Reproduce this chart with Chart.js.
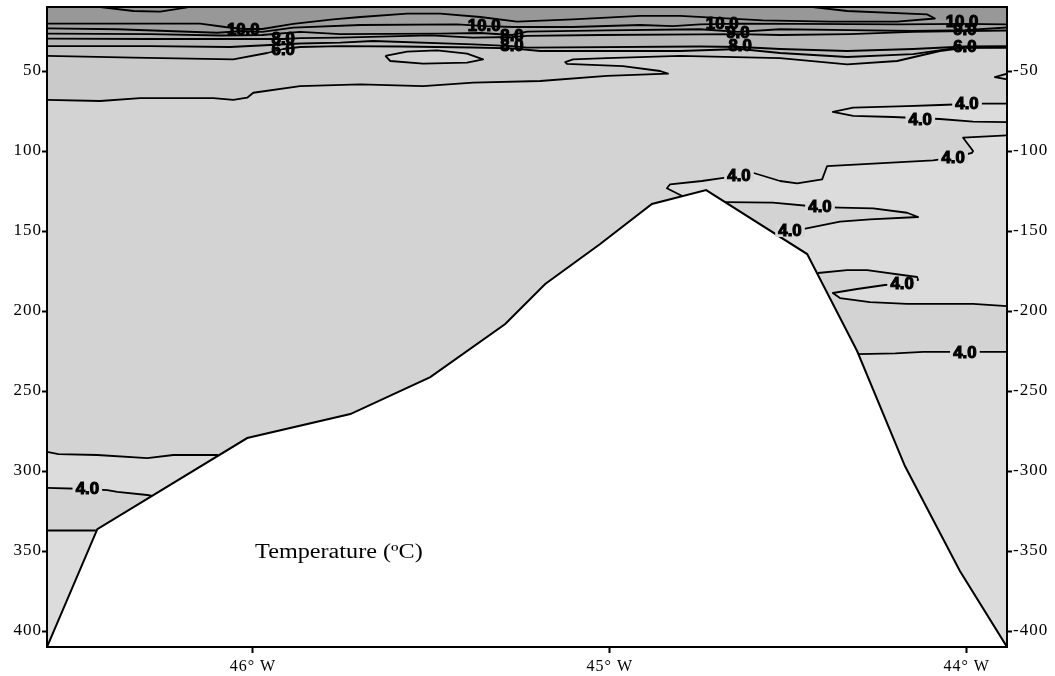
<!DOCTYPE html>
<html><head><meta charset="utf-8">
<script src="https://cdn.jsdelivr.net/npm/chart.js@4.4.1/dist/chart.umd.min.js"></script>
<style>html,body{margin:0;padding:0;background:#fff}canvas{display:block}</style>
</head><body>
<canvas id="c" width="1055" height="676"></canvas>
<script>
// ---------- axes ----------
const lonMin = -46.577, lonMax = -43.887;
const depthMin = 10, depthMax = 410;
const xTicks = [-46, -45, -44];
const xTickLabels = ['46° W', '45° W', '44° W'];
const yTicks = [50, 100, 150, 200, 250, 300, 350, 400];
const yLeftLabels = ['50', '100', '150', '200', '250', '300', '350', '400'];
const yRightLabels = ['-50', '-100', '-150', '-200', '-250', '-300', '-350', '-400'];

// ---------- seabed (lon, depth m) ----------
const bathymetry = [[-46.577,410],[-46.436,336.3],[-46.016,279.4],[-45.727,264.4],[-45.503,241.3],[-45.293,208.1],[-45.181,183.1],[-45.027,158.1],[-44.882,133.1],[-44.730,124.4],[-44.447,164.4],[-44.307,225],[-44.173,296.9],[-44.019,362.5],[-43.887,410]];

// ---------- isotherms (lon, depth m) ----------
const iso1 = [[-46.577,20.4],[-46.148,20.4],[-46.078,22.5],[-46.027,23.75],[-45.974,23.75],[-45.887,20.6],[-45.775,17.7],[-45.699,16.25],[-45.568,14.2],[-45.475,14.2],[-45.363,16.25],[-45.260,19.2],[-45.103,17.7],[-44.915,15.6],[-44.803,15.6],[-44.571,18.4],[-44.383,19.2],[-44.195,19.2],[-44.089,17.2],[-44.111,14.6],[-44.335,12.5],[-44.431,10]];
const iso2 = [[-46.577,23.3],[-46.380,23.9],[-46.100,26.1],[-46.027,25.0],[-45.974,25.6],[-45.887,22.9],[-45.699,21.25],[-45.428,20.8],[-45.349,21.9],[-45.271,22.5],[-45.103,22.5],[-44.915,21.25],[-44.823,21.9],[-44.747,20.9],[-44.635,20.4],[-44.467,20.6],[-44.187,20.9],[-44.013,20.6],[-43.887,20.8]];
const iso3 = [[-46.577,26.7],[-46.288,26.9],[-46.092,27.8],[-45.974,27.5],[-45.868,25.6],[-45.755,26.9],[-45.475,26.7],[-45.363,26.25],[-45.274,27.5],[-45.232,25.4],[-45.008,24.6],[-44.747,23.9],[-44.641,25.6],[-44.523,23.9],[-44.327,24.4],[-44.150,25.0],[-44.005,24.4],[-43.887,22.8]];
const iso4 = [[-46.577,29.8],[-46.288,30.0],[-46.008,30.0],[-45.915,30.0],[-45.868,29.4],[-45.755,29.2],[-45.503,27.7],[-45.383,29.2],[-45.274,28.75],[-45.232,28.1],[-45.027,27.5],[-44.747,27.1],[-44.641,26.9],[-44.523,27.5],[-44.327,26.9],[-44.150,25.6],[-44.005,25.0],[-43.887,24.7]];
const iso5 = [[-46.577,34.4],[-46.288,34.4],[-46.064,35.0],[-45.952,33.75],[-45.868,32.8],[-45.755,32.3],[-45.663,31.25],[-45.383,33.3],[-45.274,34.4],[-45.232,35.4],[-44.747,34.7],[-44.635,35.0],[-44.523,36.25],[-44.335,37.5],[-44.150,36.25],[-44.005,34.7],[-43.887,34.4]];
const iso6 = [[-46.577,40.6],[-46.335,41.7],[-46.055,42.7],[-45.960,38.75],[-45.915,36.25],[-45.868,35.0],[-45.755,34.4],[-45.587,34.7],[-45.383,35.3],[-45.274,35.9],[-45.195,37.5],[-45.027,37.5],[-44.803,37.5],[-44.635,36.25],[-44.523,38.75],[-44.335,41.25],[-44.150,39.4],[-44.019,35.3],[-43.887,35.0]];
const iso7 = [[-46.577,68.1],[-46.428,68.75],[-46.316,66.9],[-46.111,66.9],[-46.055,68.1],[-46.016,66.7],[-45.999,63.6],[-45.868,59.4],[-45.699,58.3],[-45.523,59.4],[-45.383,57.3],[-45.195,56.25],[-45.008,53.1],[-44.837,51.7],[-44.859,50.0],[-44.963,46.9],[-45.120,45.6],[-45.125,44.4],[-45.103,42.7],[-45.008,41.9],[-44.803,40.6],[-44.523,41.9],[-44.335,45.8],[-44.195,43.75],[-44.075,37.5],[-44.005,35.6],[-43.887,35.6]];
const isoLoop = [[-45.629,40.6],[-45.568,37.9],[-45.484,37.1],[-45.400,39.2],[-45.355,42.7],[-45.400,44.8],[-45.523,45.4],[-45.615,43.75],[-45.629,40.6]];
const isoTopSag = [[-46.428,10],[-46.335,12.5],[-46.260,12.9],[-46.184,10.3]];
const isoEdgeWedge = [[-43.887,51.7],[-43.921,53.75],[-43.887,55.2]];
const iso4TongueTop = [[-43.887,70.4],[-43.971,70.4],[-44.075,71.25],[-44.167,71.9],[-44.318,72.9],[-44.375,75.6],[-44.318,78.1],[-44.206,78.75],[-44.075,80.0],[-43.982,81.7],[-43.887,81.9]];
const iso4Peak = [[-43.887,90.2],[-44.010,91.7],[-43.982,100],[-43.985,101.1],[-44.038,104.2],[-44.094,105.8],[-44.391,109.4],[-44.405,117.7],[-44.475,120.2],[-44.523,118.75],[-44.599,113.6],[-44.638,115.6],[-44.691,117.1],[-44.742,118.75],[-44.831,120.8],[-44.840,123.3],[-44.797,128.1]];
const iso4Slope = [[-44.677,131.9],[-44.543,132.3],[-44.411,135],[-44.355,135.4],[-44.262,135.8],[-44.167,138.6],[-44.136,141.25],[-44.271,142.7],[-44.355,144.2],[-44.459,148.9],[-44.495,150],[-44.531,152.5]];
const iso4Fold = [[-44.417,176.25],[-44.335,174.4],[-44.279,174.4],[-44.139,178.75],[-44.136,180.6],[-44.181,183.1],[-44.229,183.75],[-44.307,186.25],[-44.375,188.75],[-44.355,191.9],[-44.271,194.4],[-44.167,195.6],[-43.982,195.6],[-43.887,196.9]];
const iso4Deep = [[-44.305,226.9],[-44.20,226.5],[-44.122,225.6],[-43.887,225.6]];
const isoWest1 = [[-46.577,288.1],[-46.545,289.4],[-46.436,290],[-46.296,291.9],[-46.223,290],[-46.097,290]];
const isoWest2 = [[-46.577,310.6],[-46.464,311.25],[-46.408,311.9],[-46.380,313.1],[-46.296,315],[-46.282,315.6]];
const isoWest3 = [[-46.577,337.2],[-46.44,337.2]];

// warm surface patch in the north-east corner (above iso2)
const warmCornerEast = [[-44.803,10],[-44.803,15.6],[-44.571,18.4],[-44.383,19.2],[-44.195,19.2],[-44.089,17.2],[-44.013,20.6],[-43.887,20.8],[-43.887,10]];

// points lying under the seabed, used only to close shaded areas
const underSeabedEast = [[-44.75,135],[-44.40,200],[-44.10,370],[-43.887,410]];
const underSeabedFold = [[-43.887,410],[-44.25,410],[-44.45,180]];
const underSeabedDeep = [[-43.887,410],[-44.25,410],[-44.35,240]];
const underSeabedWest1 = [[-46.0,290],[-46.0,318]];
const underSeabedWest3 = [[-46.40,410],[-46.577,410]];

// contour labels (text, lon, depth)
const contourLabels = [
  ['10.0',-46.027,24.4],['8.0',-45.915,29.7],['6.0',-45.915,36.6],
  ['10.0',-45.352,21.9],['8.0',-45.274,28.1],['8.0',-45.274,34.4],
  ['10.0',-44.685,20.6],['9.0',-44.641,26.25],['8.0',-44.635,34.4],
  ['10.0',-44.013,19.4],['9.0',-44.005,24.4],['6.0',-44.005,35.0],
  ['4.0',-43.999,70.6],['4.0',-44.130,80.6],['4.0',-44.038,104.4],
  ['4.0',-44.638,115.6],['4.0',-44.411,135],['4.0',-44.495,150],
  ['4.0',-44.181,183.1],['4.0',-44.005,226.25],['4.0',-46.464,311.25]
];
const titleText = 'Temperature (ºC)';
const titlePos = [-45.994, 351.25];

// ---------- styles ----------
const shade = {t1:'#989898', t2:'#a0a0a0', t3:'#a8a8a8', t4:'#b0b0b0', t5:'#b8b8b8', t6:'#c0c0c0', t7:'#cacaca', mid:'#d3d3d3', cold:'#dcdcdc'};
const serif = '"Liberation Serif", "Times New Roman", serif';

const pts = a => a.map(p => ({x: p[0], y: p[1]}));
const above = a => [...a, [lonMax, depthMin], [lonMin, depthMin]];
const layers = [];
function area(a, color) {
  layers.push({data: pts(a), fill: 'shape', backgroundColor: color, borderWidth: 0, pointRadius: 0, tension: 0});
}
function iso(a, w) {
  layers.push({data: pts(a), fill: false, borderColor: '#000', borderWidth: w || 1.8, pointRadius: 0, tension: 0, borderJoinStyle: 'round'});
}

area([[lonMin,depthMin],[lonMax,depthMin],[lonMax,depthMax],[lonMin,depthMax]], shade.mid);
area(above(iso7), shade.t7);
area(above(iso6), shade.t6);
area(above(iso5), shade.t5);
area(above(iso4), shade.t4);
area(above(iso3), shade.t3);
area(above(iso2), shade.t2);
area(above(iso1), shade.t1);
area(warmCornerEast, shade.t1);
area(isoLoop, shade.mid);
area([...iso4Peak, ...underSeabedEast], shade.cold);
area(iso4TongueTop, shade.cold);
area(iso4Slope, shade.mid);
area([...iso4Fold, ...underSeabedFold], shade.mid);
area([...iso4Deep, ...underSeabedDeep], shade.cold);
area([...isoWest1, ...underSeabedWest1, ...isoWest2.slice().reverse()], shade.cold);
area([...isoWest3, ...underSeabedWest3], shade.cold);

[iso1, iso2, iso3, iso4, iso5, iso6, iso7, isoLoop, isoTopSag, isoEdgeWedge, iso4TongueTop, iso4Peak, iso4Slope, iso4Fold, iso4Deep, isoWest1, isoWest2, isoWest3].forEach(a => iso(a));

layers.push({data: pts(bathymetry), fill: 'shape', backgroundColor: '#ffffff', borderColor: '#000', borderWidth: 2, pointRadius: 0, tension: 0});

layers.forEach((d, i) => { d.order = layers.length - i; });

const spacingPlugin = {
  id: 'tickSpacing',
  beforeDraw(chart) { chart.ctx.letterSpacing = '1px'; },
  afterDraw(chart) { chart.ctx.letterSpacing = '0px'; }
};

const labelPlugin = {
  id: 'contourLabels',
  afterDatasetsDraw(chart) {
    const {ctx, scales: {x, y}} = chart;
    ctx.save();
    ctx.letterSpacing = '0px';
    ctx.beginPath();
    ctx.rect(chart.chartArea.left, chart.chartArea.top, chart.chartArea.width, chart.chartArea.height);
    ctx.clip();
    ctx.font = 'bold 16px "Liberation Sans", Arial, sans-serif';
    ctx.textAlign = 'center';
    ctx.textBaseline = 'middle';
    contourLabels.forEach(([t, lon, d]) => {
      const px = x.getPixelForValue(lon), py = y.getPixelForValue(d);
      ctx.save();
      ctx.translate(px, py);
      ctx.scale(1.05, 1);
      const w = ctx.measureText(t).width;
      if (t === '4.0') {
        ctx.fillStyle = '#d7d7d7';
        ctx.fillRect(-w / 2 - 3, -6, w + 6, 12);
      }
      ctx.fillStyle = '#000';
      ctx.strokeStyle = '#000';
      ctx.lineWidth = 1.1;
      ctx.fillText(t, 0, 1);
      ctx.strokeText(t, 0, 1);
      ctx.restore();
    });
    const tx = x.getPixelForValue(titlePos[0]), ty = y.getPixelForValue(titlePos[1]);
    ctx.translate(tx, ty);
    ctx.scale(1.21, 1);
    ctx.font = '20px ' + serif;
    ctx.textAlign = 'left';
    ctx.fillStyle = '#000';
    ctx.fillText(titleText, 0, 0);
    ctx.restore();
  }
};

const yCommon = {
  type: 'linear', min: depthMin, max: depthMax, reverse: true,
  afterBuildTicks: s => { s.ticks = yTicks.map(v => ({value: v})); },
  grid: {display: true, drawOnChartArea: false, drawTicks: true, tickLength: 5, tickColor: '#000', tickWidth: 2, color: '#000'},
  border: {display: true, color: '#000', width: 2, z: 1}
};

new Chart(document.getElementById('c'), {
  type: 'line',
  data: {datasets: layers},
  options: {
    responsive: false, animation: false, devicePixelRatio: 1, events: [],
    layout: {padding: 0},
    plugins: {legend: {display: false}, tooltip: {enabled: false}, title: {display: false}},
    scales: {
      x: {
        type: 'linear', position: 'bottom', min: lonMin, max: lonMax,
        afterBuildTicks: s => { s.ticks = xTicks.map(v => ({value: v})); },
        afterFit: s => { s.height = 29; s.paddingLeft = 0; s.paddingRight = 0; },
        ticks: {autoSkip: false, maxRotation: 0, padding: 4, color: '#000', font: {family: serif, size: 16}, callback: (v, i) => xTickLabels[i]},
        grid: {display: true, drawOnChartArea: false, drawTicks: true, tickLength: 6, tickColor: '#000', tickWidth: 2, color: '#000'},
        border: {display: true, color: '#000', width: 2, z: 1}
      },
      xTop: {
        type: 'linear', position: 'top', min: lonMin, max: lonMax,
        afterFit: s => { s.height = 7; s.paddingLeft = 0; s.paddingRight = 0; },
        ticks: {display: false},
        grid: {display: false, drawTicks: false},
        border: {display: true, color: '#000', width: 2, z: 1}
      },
      y: Object.assign({}, yCommon, {
        position: 'left',
        afterFit: s => { s.width = 47; s.paddingTop = 0; s.paddingBottom = 0; },
        ticks: {autoSkip: false, padding: 0, color: '#000', font: {family: serif, size: 17}, callback: (v, i) => yLeftLabels[i]}
      }),
      y2: Object.assign({}, yCommon, {
        position: 'right',
        afterFit: s => { s.width = 48; s.paddingTop = 0; s.paddingBottom = 0; },
        ticks: {autoSkip: false, padding: 1, color: '#000', font: {family: serif, size: 17}, callback: (v, i) => yRightLabels[i]}
      })
    }
  },
  plugins: [spacingPlugin, labelPlugin]
});
</script>
</body></html>
